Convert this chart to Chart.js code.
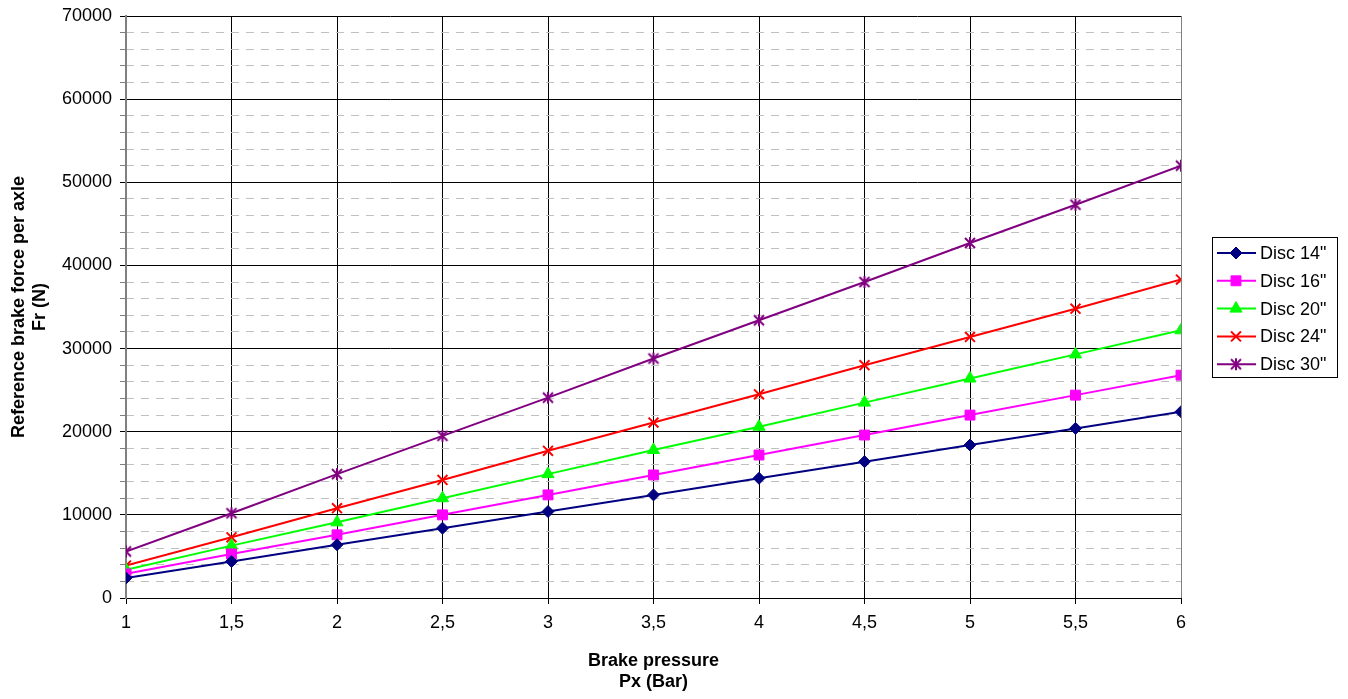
<!DOCTYPE html>
<html>
<head>
<meta charset="utf-8">
<script src="https://cdn.jsdelivr.net/npm/chart.js@4/dist/chart.umd.min.js"></script>
<style>
  html, body { margin: 0; padding: 0; background: #fff; }
  #wrap { width: 1348px; height: 699px; position: relative; }
</style>
</head>
<body>
<div id="wrap"><canvas id="line-chart"></canvas></div>
<script>
// brake pressure (bar)
const pressure = [1, 1.5, 2, 2.5, 3, 3.5, 4, 4.5, 5, 5.5, 6];

// reference brake force per axle (N)
const disc14 = [2400, 4400, 6400, 8400, 10400, 12400, 14400, 16400, 18400, 20400, 22400];
const disc16 = [2900, 5300, 7600, 10000, 12400, 14800, 17200, 19600, 22000, 24400, 26800];
const disc20 = [3400, 6300, 9100, 12000, 14900, 17800, 20600, 23500, 26400, 29300, 32200];
const disc24 = [3900, 7300, 10800, 14200, 17700, 21100, 24500, 28000, 31400, 34800, 38300];
const disc30 = [5600, 10200, 14900, 19500, 24100, 28800, 33400, 38000, 42700, 47300, 52000];

const seriesNames = ['Disc 14"', 'Disc 16"', 'Disc 20"', 'Disc 24"', 'Disc 30"'];

const FONT = "'Liberation Sans', Arial, sans-serif";

// asterisk marker (X plus a vertical bar), like the excel one
function asterisk(color) {
  const c = document.createElement('canvas');
  c.width = 14; c.height = 14;
  const g = c.getContext('2d');
  g.strokeStyle = color;
  g.lineWidth = 2;
  g.beginPath();
  g.moveTo(2, 2); g.lineTo(12, 12);
  g.moveTo(12, 2); g.lineTo(2, 12);
  g.moveTo(7, 1); g.lineTo(7, 13);
  g.stroke();
  return c;
}

function pts(values) {
  return values.map((v, i) => ({ x: pressure[i], y: v }));
}

function serie(label, values, color, style, radius, bw) {
  return {
    label: label,
    data: pts(values),
    borderColor: color,
    backgroundColor: color,
    pointBorderColor: color,
    pointBackgroundColor: color,
    pointStyle: style,
    pointRadius: radius,
    pointHoverRadius: radius,
    pointBorderWidth: bw,
    borderWidth: 2,
    tension: 0,
    fill: false
  };
}

// legend with a line through each marker, in a box
const boxLegend = {
  id: 'boxLegend',
  afterDraw(chart) {
    const ctx = chart.ctx;
    const x0 = 1212, y0 = 237, w = 125, h = 140;
    ctx.save();
    ctx.fillStyle = '#fff';
    ctx.fillRect(x0, y0, w, h);
    ctx.strokeStyle = '#000';
    ctx.lineWidth = 1;
    ctx.strokeRect(x0 + 0.5, y0 + 0.5, w, h);
    chart.data.datasets.forEach((ds, i) => {
      const y = y0 + 16 + i * 27.8;
      ctx.strokeStyle = ds.borderColor;
      ctx.lineWidth = 2;
      ctx.beginPath();
      ctx.moveTo(x0 + 5, y);
      ctx.lineTo(x0 + 44, y);
      ctx.stroke();
      ctx.fillStyle = ds.pointBackgroundColor;
      ctx.strokeStyle = ds.pointBorderColor;
      ctx.lineWidth = ds.pointBorderWidth;
      Chart.helpers.drawPoint(ctx, {
        pointStyle: ds.pointStyle,
        radius: ds.pointRadius,
        rotation: 0,
        borderWidth: ds.pointBorderWidth
      }, x0 + 24, y);
      ctx.fillStyle = '#000';
      ctx.font = '18px ' + FONT;
      ctx.textBaseline = 'middle';
      ctx.textAlign = 'left';
      ctx.fillText(ds.label, x0 + 48, y + 1);
    });
    ctx.restore();
  }
};

new Chart(document.getElementById("line-chart"), {
  type: 'line',
  data: {
    datasets: [
      serie(seriesNames[0], disc14, '#000080', 'rectRot', 6, 1),
      serie(seriesNames[1], disc16, '#FF00FF', 'rect', 7, 1),
      serie(seriesNames[2], disc20, '#00FF00', 'triangle', 7, 1),
      serie(seriesNames[3], disc24, '#FF0000', 'crossRot', 7, 2),
      serie(seriesNames[4], disc30, '#800080', asterisk('#800080'), 7, 2)
    ]
  },
  options: {
    responsive: true,
    maintainAspectRatio: false,
    animation: false,
    layout: { padding: { top: 16, right: 167, left: 8, bottom: 6 } },
    plugins: {
      legend: { display: false },
      tooltip: { enabled: false }
    },
    scales: {
      x: {
        type: 'linear',
        min: 1,
        max: 6,
        afterFit: (s) => { s.height = 95; },
        ticks: {
          stepSize: 0.5,
          color: '#000',
          font: { family: FONT, size: 18 },
          padding: 8,
          callback: (v) => String(v).replace('.', ',')
        },
        grid: {
          color: (c) => (c.tick && c.tick.value === 6 ? '#808080' : '#000'),
          lineWidth: 1,
          tickLength: 6,
          tickColor: '#000'
        },
        border: { color: '#000', width: 1 },
        title: {
          display: true,
          text: ['Brake pressure', 'Px (Bar)'],
          color: '#000',
          font: { family: FONT, size: 18, weight: 'bold', lineHeight: 1.2 },
          padding: { top: 4, bottom: 0 }
        }
      },
      yMinor: {
        type: 'linear',
        position: 'left',
        min: 0,
        max: 70000,
        afterFit: (s) => { s.width = 0; },
        ticks: { display: false, stepSize: 2000 },
        grid: {
          drawTicks: false,
          color: (c) => (c.tick && c.tick.value % 10000 === 0 ? 'rgba(0,0,0,0)' : '#c0c0c0'),
          lineWidth: 1
        },
        border: { display: false, dash: [8, 7] }
      },
      y: {
        type: 'linear',
        position: 'left',
        min: 0,
        max: 70000,
        afterFit: (s) => { s.width = 118; s.paddingTop = 0; },
        ticks: {
          stepSize: 2000,
          autoSkip: false,
          color: '#000',
          font: { family: FONT, size: 18 },
          padding: 8,
          callback: (v) => (v % 10000 === 0 ? String(v) : '')
        },
        grid: {
          color: (c) => (c.tick && c.tick.value % 10000 === 0 ? '#000' : 'rgba(0,0,0,0)'),
          lineWidth: 1,
          tickLength: 6,
          tickColor: (c) => (c.tick && c.tick.value % 10000 === 0 ? '#000' : '#808080')
        },
        border: { color: '#808080', width: 2 },
        title: {
          display: true,
          text: ['Reference brake force per axle', 'Fr (N)'],
          color: '#000',
          font: { family: FONT, size: 18, weight: 'bold', lineHeight: 1.2 },
          padding: { top: 0, bottom: 0 }
        }
      }
    }
  },
  plugins: [boxLegend]
});
</script>
</body>
</html>
